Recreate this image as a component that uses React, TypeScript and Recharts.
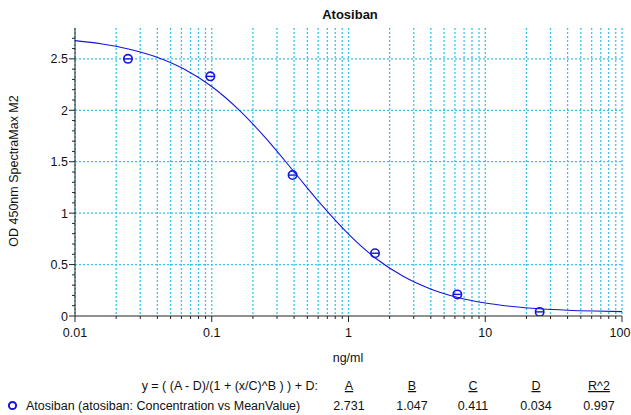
import React from "react";
import {
  ComposedChart,
  Line,
  Scatter,
  XAxis,
  YAxis,
  CartesianGrid,
  ReferenceLine,
} from "recharts";

// measured standards (ng/ml vs mean OD)
const standardConc = [0.0244, 0.0977, 0.39, 1.5625, 6.25, 25];
const standardOD = [2.5, 2.33, 1.37, 0.61, 0.21, 0.04];

// fitted curve
const curveConc = [
  0.01, 0.0158, 0.0251, 0.0398, 0.0631, 0.1, 0.158, 0.251, 0.398, 0.631, 1,
  1.58, 2.51, 3.98, 6.31, 10, 15.8, 25.1, 39.8, 63.1, 100,
];
const curveOD = [
  2.677, 2.645, 2.594, 2.516, 2.399, 2.231, 2.004, 1.722, 1.405, 1.085, 0.797,
  0.562, 0.386, 0.263, 0.18, 0.126, 0.092, 0.07, 0.056, 0.048, 0.043,
];

const xTicks = [
  0.01, 0.02, 0.03, 0.04, 0.05, 0.06, 0.07, 0.08, 0.09,
  0.1, 0.2, 0.3, 0.4, 0.5, 0.6, 0.7, 0.8, 0.9,
  1, 2, 3, 4, 5, 6, 7, 8, 9,
  10, 20, 30, 40, 50, 60, 70, 80, 90, 100,
];
const xMajor = [0.01, 0.1, 1, 10, 100];
const yTicks = [
  0, 0.1, 0.2, 0.3, 0.4, 0.5, 0.6, 0.7, 0.8, 0.9, 1, 1.1, 1.2, 1.3, 1.4, 1.5,
  1.6, 1.7, 1.8, 1.9, 2, 2.1, 2.2, 2.3, 2.4, 2.5, 2.6, 2.7,
];
const yGrid = [0.5, 1, 1.5, 2, 2.5];

const paramNames = ["A", "B", "C", "D", "R^2"];
const paramValues = ["2.731", "1.047", "0.411", "0.034", "0.997"];
const paramX = [349, 412, 473, 536, 599];

const curve = curveConc.map((x, i) => ({ x, y: curveOD[i] }));
const standards = standardConc.map((x, i) => ({ x, y: standardOD[i] }));

const FONT = "'Liberation Sans', Arial, sans-serif";
const BLUE = "#1515e0";
const GRID = "#3cc3ec";

const isMajorY = (v: number) => Math.abs(v * 2 - Math.round(v * 2)) < 1e-6;

function XTick(props: any) {
  const { x, y, payload } = props;
  const major = xMajor.some((m) => Math.abs(m - payload.value) < 1e-9);
  // keep the last label inside the window
  const dx = payload.value === 100 ? -2 : 0;
  return (
    <g>
      <line x1={x} x2={x} y1={y} y2={y + (major ? 6 : 3)} stroke="#222" />
      {major && (
        <text x={x + dx} y={y + 21} textAnchor="middle" fontSize={12.5} fontFamily={FONT} fill="#111">
          {payload.value}
        </text>
      )}
    </g>
  );
}

function YTick(props: any) {
  const { x, y, payload } = props;
  const major = isMajorY(payload.value);
  return (
    <g>
      <line x1={x} x2={x - (major ? 6 : 3)} y1={y} y2={y} stroke="#222" />
      {major && (
        <text x={x - 7} y={y + 4.5} textAnchor="end" fontSize={12.5} fontFamily={FONT} fill="#111">
          {payload.value}
        </text>
      )}
    </g>
  );
}

function Marker(props: any) {
  const { cx, cy } = props;
  return (
    <g>
      <circle cx={cx} cy={cy} r={4.2} fill="none" stroke={BLUE} strokeWidth={1.6} />
      <line x1={cx - 4} x2={cx + 4} y1={cy} y2={cy} stroke={BLUE} strokeWidth={1.4} />
    </g>
  );
}

export default function App() {
  return (
    <div style={{ position: "absolute", left: 0, top: 0, width: 631, height: 415, background: "#fff" }}>
      <ComposedChart
        width={631}
        height={415}
        margin={{ top: 28, right: 9, bottom: 69, left: 35 }}
      >
        <CartesianGrid
          horizontal={false}
          stroke={GRID}
          strokeDasharray="2 2"
          strokeWidth={1.3}
        />
        {yGrid.map((v) => (
          <ReferenceLine
            key={v}
            y={v}
            stroke={GRID}
            strokeDasharray="2 2"
            strokeWidth={1.3}
          />
        ))}
        <XAxis
          dataKey="x"
          type="number"
          scale="log"
          domain={[0.01, 100]}
          ticks={xTicks}
          interval={0}
          allowDataOverflow
          height={30}
          tickSize={0}
          tickMargin={0}
          tick={<XTick />}
          axisLine={{ stroke: "#222" }}
          tickLine={false}
        />
        <XAxis
          xAxisId="top"
          orientation="top"
          dataKey="x"
          type="number"
          scale="log"
          domain={[0.01, 100]}
          height={0}
          tick={false}
          tickLine={false}
          axisLine={{ stroke: "#999" }}
        />
        <YAxis
          type="number"
          domain={[0, 2.8]}
          ticks={yTicks}
          interval={0}
          allowDataOverflow
          width={40}
          tickSize={0}
          tickMargin={0}
          tick={<YTick />}
          axisLine={{ stroke: "#222" }}
          tickLine={false}
        />
        <YAxis
          yAxisId="right"
          orientation="right"
          type="number"
          domain={[0, 2.8]}
          width={0}
          tick={false}
          tickLine={false}
          axisLine={{ stroke: "#333" }}
        />
        <Line
          data={curve}
          dataKey="y"
          type="monotone"
          stroke={BLUE}
          strokeWidth={1.1}
          dot={false}
          isAnimationActive={false}
        />
        <Scatter
          data={standards}
          dataKey="y"
          shape={<Marker />}
          isAnimationActive={false}
        />
      </ComposedChart>
      <svg
        width={631}
        height={415}
        style={{ position: "absolute", left: 0, top: 0, pointerEvents: "none" }}
        fontFamily={FONT}
        fill="#111"
      >
        <text x={350} y={19} textAnchor="middle" fontSize={13} fontWeight="bold">
          Atosiban
        </text>
        <text
          x={18}
          y={171}
          textAnchor="middle"
          fontSize={12.5}
          transform="rotate(-90 18 171)"
        >
          OD 450nm SpectraMax M2
        </text>
        <text x={348} y={362} textAnchor="middle" fontSize={12.5}>
          ng/ml
        </text>
        <text x={318} y={390} textAnchor="end" fontSize={12.5}>
          y = ( (A - D)/(1 + (x/C)^B ) ) + D:
        </text>
        {paramNames.map((n, i) => (
          <text
            key={n}
            x={paramX[i]}
            y={390}
            textAnchor="middle"
            fontSize={12.5}
            textDecoration="underline"
          >
            {n}
          </text>
        ))}
        {paramValues.map((v, i) => (
          <text key={i} x={paramX[i]} y={410} textAnchor="middle" fontSize={12.5}>
            {v}
          </text>
        ))}
        <circle cx={12.5} cy={405.5} r={3.6} fill="none" stroke={BLUE} strokeWidth={2} />
        <text x={26} y={410} fontSize={12.5}>
          Atosiban (atosiban: Concentration vs MeanValue)
        </text>
      </svg>
    </div>
  );
}
